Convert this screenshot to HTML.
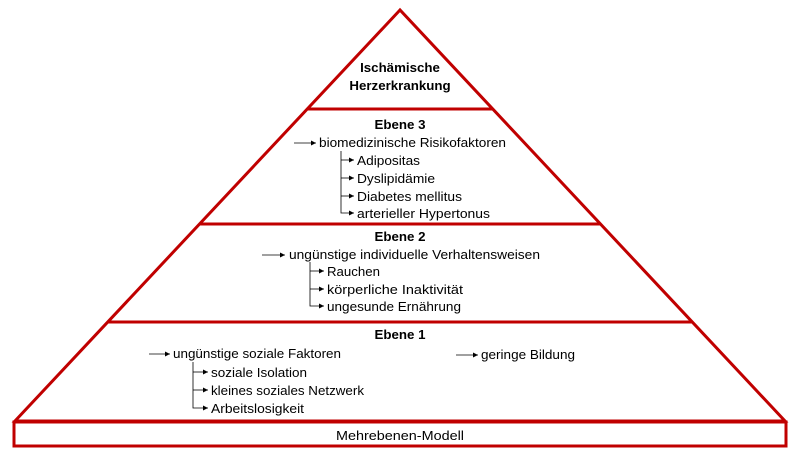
<!DOCTYPE html>
<html><head><meta charset="utf-8"><style>
html,body{margin:0;padding:0;background:#fff;}
svg text{font-family:"Liberation Sans",sans-serif;font-size:13.3px;fill:#000;}
.b{font-weight:bold;}
</style></head><body>
<svg width="800" height="470" viewBox="0 0 800 470">
<defs><marker id="a" markerWidth="6" markerHeight="6" refX="5" refY="3" orient="auto" markerUnits="userSpaceOnUse"><path d="M0,0.5 L5,3 L0,5.5z" fill="#000"/></marker></defs>
<g stroke="#c00000" stroke-width="3" fill="none">
<polygon points="400,10 15,421 785,421"/>
<line x1="307" y1="109" x2="492" y2="109"/>
<line x1="200" y1="224" x2="600" y2="224"/>
<line x1="108" y1="322" x2="692" y2="322"/>
<rect x="14" y="422" width="772" height="24"/>
</g>
<text class="b" x="400" y="72" text-anchor="middle">Ischämische</text>
<text class="b" x="400" y="90" text-anchor="middle">Herzerkrankung</text>
<text class="b" x="400" y="129" text-anchor="middle">Ebene 3</text>
<text class="b" x="400" y="241" text-anchor="middle">Ebene 2</text>
<text class="b" x="400" y="339" text-anchor="middle">Ebene 1</text>
<text x="400" y="440" text-anchor="middle" textLength="128" lengthAdjust="spacingAndGlyphs">Mehrebenen-Modell</text>
<g stroke="#000" stroke-width="0.8" fill="none">
<line x1="294" y1="143" x2="316" y2="143" marker-end="url(#a)"/>
<polyline points="341,151 341,213 354,213" marker-end="url(#a)"/>
<line x1="341" y1="160" x2="354" y2="160" marker-end="url(#a)"/>
<line x1="341" y1="178" x2="354" y2="178" marker-end="url(#a)"/>
<line x1="341" y1="196" x2="354" y2="196" marker-end="url(#a)"/>
<line x1="262" y1="255" x2="285" y2="255" marker-end="url(#a)"/>
<polyline points="310,262 310,306 324,306" marker-end="url(#a)"/>
<line x1="310" y1="271" x2="324" y2="271" marker-end="url(#a)"/>
<line x1="310" y1="289" x2="324" y2="289" marker-end="url(#a)"/>
<line x1="149" y1="354" x2="170" y2="354" marker-end="url(#a)"/>
<polyline points="193,362 193,408 208,408" marker-end="url(#a)"/>
<line x1="193" y1="372" x2="208" y2="372" marker-end="url(#a)"/>
<line x1="193" y1="390" x2="208" y2="390" marker-end="url(#a)"/>
<line x1="456" y1="355" x2="478" y2="355" marker-end="url(#a)"/>
</g>
<text x="319" y="147" textLength="187" lengthAdjust="spacingAndGlyphs">biomedizinische Risikofaktoren</text>
<text x="357" y="165" textLength="63" lengthAdjust="spacingAndGlyphs">Adipositas</text>
<text x="357" y="183" textLength="78" lengthAdjust="spacingAndGlyphs">Dyslipidämie</text>
<text x="357" y="201" textLength="105" lengthAdjust="spacingAndGlyphs">Diabetes mellitus</text>
<text x="357" y="218" textLength="133" lengthAdjust="spacingAndGlyphs">arterieller Hypertonus</text>
<text x="289" y="259" textLength="251" lengthAdjust="spacingAndGlyphs">ungünstige individuelle Verhaltensweisen</text>
<text x="327" y="276" textLength="53" lengthAdjust="spacingAndGlyphs">Rauchen</text>
<text x="327" y="294" textLength="136" lengthAdjust="spacingAndGlyphs">körperliche Inaktivität</text>
<text x="327" y="311" textLength="134" lengthAdjust="spacingAndGlyphs">ungesunde Ernährung</text>
<text x="173" y="358" textLength="168" lengthAdjust="spacingAndGlyphs">ungünstige soziale Faktoren</text>
<text x="481" y="359" textLength="94" lengthAdjust="spacingAndGlyphs">geringe Bildung</text>
<text x="211" y="377" textLength="96" lengthAdjust="spacingAndGlyphs">soziale Isolation</text>
<text x="211" y="395" textLength="153" lengthAdjust="spacingAndGlyphs">kleines soziales Netzwerk</text>
<text x="211" y="413" textLength="93" lengthAdjust="spacingAndGlyphs">Arbeitslosigkeit</text>
</svg>
</body></html>
